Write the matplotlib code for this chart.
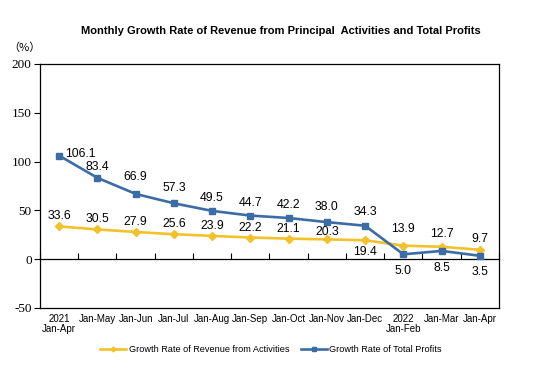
import numpy as np
import matplotlib
matplotlib.use('Agg')
import matplotlib.pyplot as plt

# ---- data ----------------------------------------------------------------
categories = ["2021\nJan-Apr", "Jan-May", "Jan-Jun", "Jan-Jul", "Jan-Aug",
              "Jan-Sep", "Jan-Oct", "Jan-Nov", "Jan-Dec", "2022\nJan-Feb",
              "Jan-Mar", "Jan-Apr"]
revenue = [33.6, 30.5, 27.9, 25.6, 23.9, 22.2, 21.1, 20.3, 19.4, 13.9, 12.7, 9.7]
profits = [106.1, 83.4, 66.9, 57.3, 49.5, 44.7, 42.2, 38.0, 34.3, 5.0, 8.5, 3.5]
yticks = [-50, 0, 50, 100, 150, 200]

# label offsets in pixels (dx, dy)
rev_off = [(0, 10), (0, 10), (0, 10), (0, 10), (0, 10), (0, 10),
           (0, 10), (0, 7), (0, -12), (0, 17), (0, 13), (0, 11)]
pro_off = [(21, 2), (0, 11), (0, 17), (0, 15), (0, 13), (0, 13),
           (0, 13), (0, 15), (0, 14), (0, -17), (0, -17), (0, -16)]

YELLOW = '#f2c22c'
BLUE = '#3b6ca6'

fig = plt.figure(figsize=(5.38, 3.74), dpi=100)
ax = fig.add_axes([40/538, 1-308/374, 459/538, 244/374])

x = np.arange(len(categories))
ax.plot(x, revenue, '-D', color=YELLOW, lw=1.9, ms=4.2,
        label="Growth Rate of Revenue from Activities")
ax.plot(x, profits, '-s', color=BLUE, lw=1.9, ms=4.2,
        label="Growth Rate of Total Profits")

for xi, v, (dx, dy) in zip(x, revenue, rev_off):
    ax.annotate(f"{v:.1f}", (xi, v), xytext=(dx, dy), textcoords='offset pixels',
                ha='center', va='center', fontsize=8.8, family='Liberation Sans')
for xi, v, (dx, dy) in zip(x, profits, pro_off):
    ax.annotate(f"{v:.1f}", (xi, v), xytext=(dx, dy), textcoords='offset pixels',
                ha='center', va='center', fontsize=8.8, family='Liberation Sans')

ax.set_xlim(-0.5, len(categories) - 0.5)
ax.set_ylim(-50, 200)
ax.set_yticks(yticks)
ax.set_yticklabels([str(t) for t in yticks], family='Liberation Serif', fontsize=9.5)
ax.tick_params(axis='y', direction='out', length=4, width=0.8, pad=2)
ax.set_xticks(x)
ax.set_xticklabels(categories, family='Liberation Sans', fontsize=7, linespacing=1.1)
ax.tick_params(axis='x', length=0, pad=4)
for s in ax.spines.values():
    s.set_linewidth(0.9)

# zero line with category boundary ticks
zax = ax.secondary_xaxis(50/250)
zax.set_xticks(np.arange(len(categories) + 1) - 0.5)
zax.tick_params(axis='x', direction='in', length=4, width=0.8, labelbottom=False,
                labeltop=False, bottom=True, top=False)
zax.spines['bottom'].set_linewidth(0.9)

fig.text(24/538, 1-48/374, "（%）", family=['Noto Sans CJK SC', 'DejaVu Sans'],
         fontsize=8, ha='center', va='center')
fig.text(281/538, 1-31/374,
         "Monthly Growth Rate of Revenue from Principal  Activities and Total Profits",
         family='Liberation Sans', fontweight='bold', fontsize=8.0,
         ha='center', va='center')

fig.legend(loc='center', bbox_to_anchor=(271/538, 1-350/374), ncol=2, frameon=False,
           prop={'family': 'Liberation Sans', 'size': 6.6}, handlelength=2.8,
           handletextpad=0.3, columnspacing=1.3, markerscale=0.6)

fig.savefig('out.png', dpi=100)
